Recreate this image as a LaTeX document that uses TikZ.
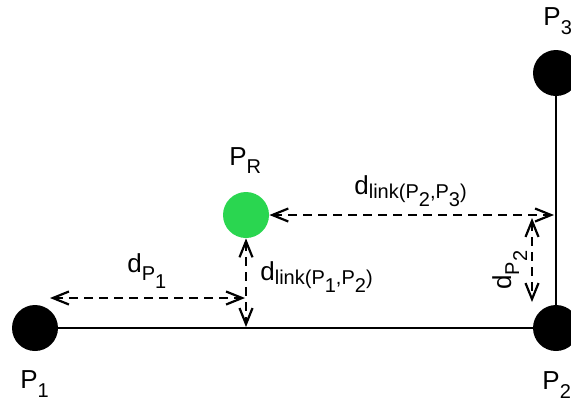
\documentclass[tikz,border=0pt]{standalone}
\usepackage{fontspec}
\setmainfont{Liberation Sans}
\usetikzlibrary{arrows.meta}
\definecolor{relaygreen}{RGB}{42,214,80}
% lowered subscript in text font
\newcommand{\sbs}[2][4pt]{\raisebox{-#1}{\fontsize{10}{11}\selectfont #2}}

\begin{document}
\begin{tikzpicture}[x=0.5pt,y=-0.5pt,
    point/.style={circle, fill=black, minimum size=23pt, inner sep=0pt},
    lbl/.style={anchor=base west, inner sep=0pt, font=\fontsize{13}{15}\selectfont},
    gap/.style={line width=1.1pt, dash pattern=on 4.5pt off 3pt,
      {Straight Barb[length=8pt,width=6.5pt]}-{Straight Barb[length=8pt,width=6.5pt]}}]
        \useasboundingbox (0,0) rectangle (571,398);

        % Points of the path and the relay
        \node[point] (P1) at (35,328) {};
        \node[point] (P2) at (556,328) {};
        \node[point] (P3) at (556,73) {};
        \node[circle, fill=relaygreen, minimum size=23pt, inner sep=0pt] (PR) at (246,215) {};

        % Links
        \draw[line width=1.1pt] (P1) -- (P2);
        \draw[line width=1.1pt] (P2) -- (P3);

        % Feet of the distances
        \coordinate (foot1) at (246,327);
        \coordinate (foot2) at (554,215);
        \coordinate (start1) at (50,298);
        \coordinate (end1) at (245,298);
        \coordinate (top2) at (532,218);
        \coordinate (low2) at (532,302);

        % Distances
        \draw[gap] (start1) -- (end1);
        \draw[gap] (PR.south) -- (foot1);
        \draw[gap] (PR.east) -- (foot2);
        \draw[gap] (top2) -- (low2);

        % Labels
        \node[lbl] (lP1) at (20,388) {P\sbs[4.5pt]{1}};
        \node[lbl] (lP2) at (542,389) {P\sbs[4.5pt]{2}};
        \node[lbl] (lP3) at (543,25) {P\sbs[4.5pt]{3}};
        \node[lbl] (lPR) at (229,165) {P\sbs{R}};
        \node[lbl] (ldP1) at (127,272) {d\sbs{P\sbs{1}}};
        \node[lbl] (ldl1) at (260,280) {d\sbs[2pt]{link(P\sbs{1},P\sbs{2})}};
        \node[lbl] (ldl2) at (354,194) {d\sbs[2pt]{link(P\sbs{2},P\sbs{3})}};
        \node[lbl, rotate=90] (ldP2) at (511,290) {d\sbs{P\sbs{2}}};
\end{tikzpicture}
\end{document}
